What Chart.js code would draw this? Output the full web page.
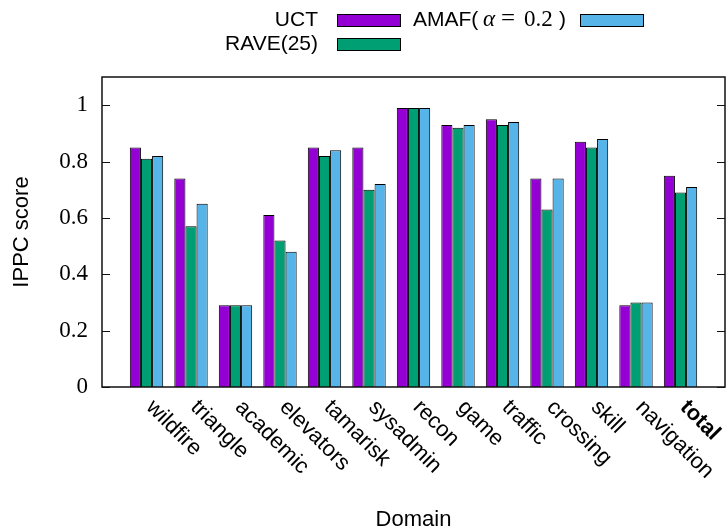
<!DOCTYPE html>
<html>
<head>
<meta charset="utf-8">
<script src="https://cdn.jsdelivr.net/npm/chart.js@4/dist/chart.umd.min.js"></script>
<style>
html,body{margin:0;padding:0;background:#fff;}
canvas{display:block;}
</style>
</head>
<body>
<canvas id="c" width="727" height="529"></canvas>
<script>
const categories = ['wildfire','triangle','academic','elevators','tamarisk','sysadmin','recon','game','traffic','crossing','skill','navigation','total'];
const seriesNames = ['UCT','RAVE(25)','AMAF(α = 0.2)'];
const uct  = [0.85,0.74,0.29,0.61,0.85,0.85,0.99,0.93,0.95,0.74,0.87,0.29,0.75];
const rave = [0.81,0.57,0.29,0.52,0.82,0.70,0.99,0.92,0.93,0.63,0.85,0.30,0.69];
const amaf = [0.82,0.65,0.29,0.48,0.84,0.72,0.99,0.93,0.94,0.74,0.88,0.30,0.71];
const yTicks = [0,0.2,0.4,0.6,0.8,1];
const colors = ['#9400D3','#009E73','#56B4E9'];

const labels = [''].concat(categories, ['']);
const pad = arr => [null].concat(arr, [null]);

const SANS = '"Liberation Sans", Arial, sans-serif';
const SERIF = '"Liberation Serif", "DejaVu Serif", serif';

const customPlugin = {
  id: 'custom',
  afterDraw(chart) {
    const ctx = chart.ctx;
    const a = chart.chartArea;
    const ys = chart.scales.y, xs = chart.scales.x;
    ctx.save();
    // border box
    ctx.strokeStyle = '#111';
    ctx.lineWidth = 1.5;
    ctx.strokeRect(a.left, a.top, a.right - a.left, a.bottom - a.top);
    // inward y ticks, both sides
    ctx.lineWidth = 1;
    yTicks.forEach(v => {
      const py = Math.round(ys.getPixelForValue(v)) + 0.5;
      ctx.beginPath();
      ctx.moveTo(a.left, py); ctx.lineTo(a.left + 8, py);
      ctx.moveTo(a.right, py); ctx.lineTo(a.right - 8, py);
      ctx.stroke();
    });
    // rotated x labels
    ctx.fillStyle = '#000';
    ctx.textAlign = 'left';
    ctx.textBaseline = 'middle';
    categories.forEach((c, i) => {
      const px = xs.getPixelForValue(i + 1);
      ctx.save();
      ctx.translate(px + 3, a.bottom + 17);
      ctx.rotate(Math.PI / 4);
      ctx.font = (c === 'total' ? 'bold ' : '') + '22px ' + SANS;
      ctx.fillText(c, 0, 0);
      ctx.restore();
    });
    // legend
    const entries = [
      {ds: 0, textRight: 318, textLeft: null, boxX: 337, base: 25.5, boxY: 14},
      {ds: 1, textRight: 318, textLeft: null, boxX: 337, base: 50, boxY: 38},
      {ds: 2, textRight: 568, textLeft: 413, boxX: 580, base: 25.5, boxY: 14}
    ];
    entries.forEach(e => {
      const d = chart.data.datasets[e.ds];
      ctx.textBaseline = 'alphabetic';
      const label = d.label;
      const m = label.match(/^(.*\()(α)( = )([0-9.]+)(\))$/);
      if (m) {
        const parts = [
          {t: m[1], f: '21px ' + SANS, dx: 0},
          {t: m[2], f: 'italic 23px ' + SERIF, dx: 70},
          {t: '=', f: '25px ' + SERIF, dx: 88},
          {t: m[4], f: '23px ' + SERIF, dx: 111},
          {t: m[5], f: '21px ' + SANS, dx: 146}
        ];
        ctx.textAlign = 'left';
        parts.forEach(p => { ctx.font = p.f; ctx.fillText(p.t, e.textLeft + p.dx, e.base); });
      } else {
        ctx.font = '21px ' + SANS;
        ctx.textAlign = 'right';
        ctx.fillText(label, e.textRight, e.base);
      }
      ctx.fillStyle = d.backgroundColor;
      ctx.fillRect(e.boxX, e.boxY, 63, 12);
      ctx.strokeStyle = '#000';
      ctx.lineWidth = 1;
      ctx.strokeRect(e.boxX + 0.5, e.boxY + 0.5, 63, 12);
      ctx.fillStyle = '#000';
    });
    ctx.restore();
  }
};

new Chart(document.getElementById('c'), {
  type: 'bar',
  data: {
    labels: labels,
    datasets: [
      {label: seriesNames[0], data: pad(uct), backgroundColor: colors[0]},
      {label: seriesNames[1], data: pad(rave), backgroundColor: colors[1]},
      {label: seriesNames[2], data: pad(amaf), backgroundColor: colors[2]}
    ].map(d => Object.assign(d, {borderColor: '#000', borderWidth: 1, barPercentage: 1, categoryPercentage: 0.75}))
  },
  options: {
    responsive: false,
    devicePixelRatio: 1,
    animation: false,
    layout: {padding: {top: 77, right: 2, bottom: 0, left: 0}},
    plugins: {legend: {display: false}, tooltip: {enabled: false}},
    scales: {
      x: {
        type: 'category',
        offset: false,
        grid: {display: false, drawTicks: false},
        border: {display: false},
        ticks: {display: false},
        title: {display: true, text: 'Domain', color: '#000', font: {family: SANS, size: 22, lineHeight: 0.8}, padding: {top: 0, bottom: 0}},
        afterFit(s) { s.height = 142; }
      },
      y: {
        min: 0, max: 1.1,
        grid: {display: false, drawTicks: false, tickLength: 0},
        border: {display: false},
        ticks: {
          includeBounds: false,
          stepSize: 0.2,
          padding: 14,
          color: '#000',
          font: {family: SERIF, size: 23},
          callback: v => (yTicks.some(t => Math.abs(t - v) < 1e-6) ? String(Math.round(v * 10) / 10) : '')
        },
        title: {display: true, text: 'IPPC score', color: '#000', font: {family: SANS, size: 22, lineHeight: 1}, padding: {top: 11, bottom: 0}},
        afterFit(s) { s.width = 102; }
      }
    }
  },
  plugins: [customPlugin]
});
</script>
</body>
</html>
